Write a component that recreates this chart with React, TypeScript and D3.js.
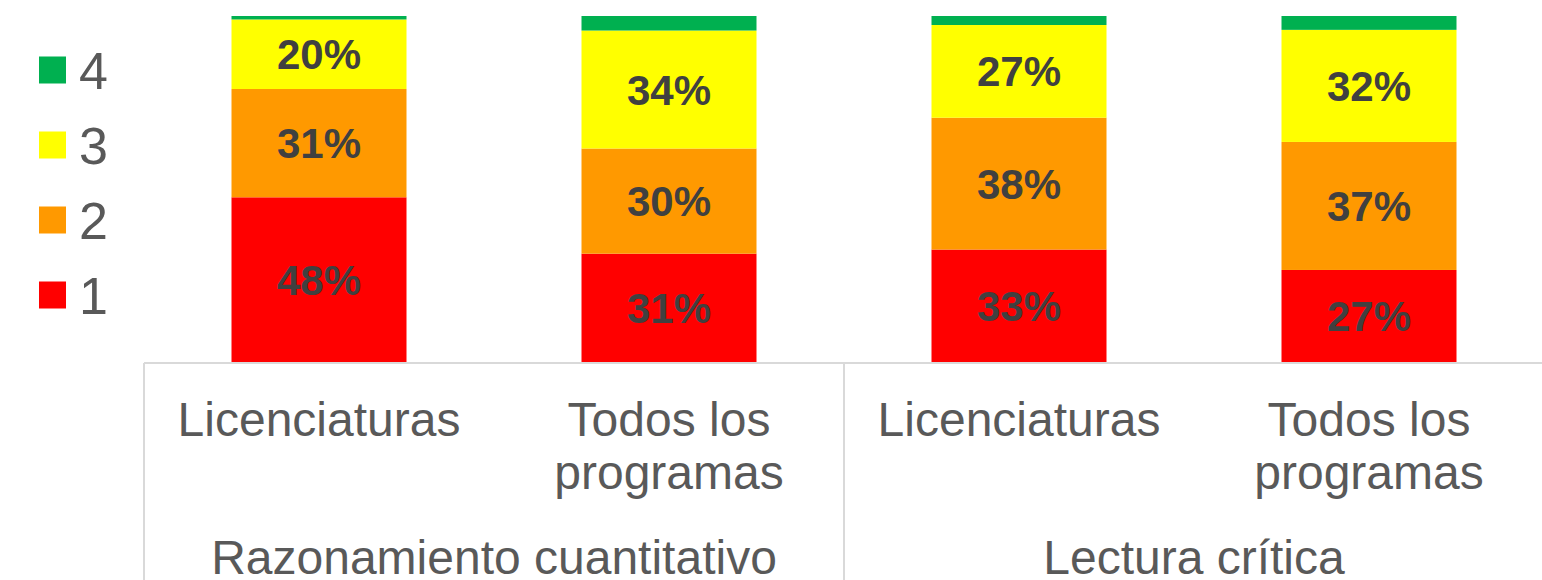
import React from "react";
import * as d3 from "d3";

const categories = ["Licenciaturas", "Todos los programas", "Licenciaturas", "Todos los programas"];
const categoryLines = [["Licenciaturas"], ["Todos los", "programas"], ["Licenciaturas"], ["Todos los", "programas"]];
const groups = ["Razonamiento cuantitativo", "Lectura crítica"];
const levels = ["1", "2", "3", "4"];
const level1 = [0.476, 0.313, 0.325, 0.266];
const level2 = [0.313, 0.304, 0.381, 0.37];
const level3 = [0.201, 0.341, 0.268, 0.324];
const level4 = [0.01, 0.042, 0.026, 0.04];
const colors = ["#FF0000", "#FF9900", "#FFFF00", "#00B050"];

const W = 1542;
const H = 580;

export default function App() {
  const x = d3
    .scaleBand<number>()
    .domain(d3.range(categories.length))
    .range([144, 1544])
    .paddingInner(0.5)
    .paddingOuter(0.25);
  const y = d3.scaleLinear().domain([0, 1]).range([362, 16]);

  const rows = categories.map((c, i) => ({
    i,
    "1": level1[i],
    "2": level2[i],
    "3": level3[i],
    "4": level4[i],
  }));
  const series = d3.stack<any>().keys(levels)(rows);
  const fmt = d3.format(".0%");
  const step = x.step();

  return (
    <svg
      width={W}
      height={H}
      style={{ position: "absolute", left: 0, top: 0, background: "#fff" }}
      fontFamily="'Liberation Sans', Arial, sans-serif"
    >
      {series.map((s, si) => (
        <g key={si} fill={colors[si]}>
          {s.map((d, j) => (
            <rect
              key={j}
              x={x(j)}
              y={y(d[1])}
              width={x.bandwidth()}
              height={y(d[0]) - y(d[1])}
            />
          ))}
        </g>
      ))}
      {series.slice(0, 3).map((s, si) =>
        s.map((d, j) => (
          <text
            key={si + "-" + j}
            x={(x(j) as number) + x.bandwidth() / 2}
            y={(y(d[0]) + y(d[1])) / 2}
            dy="0.36em"
            textAnchor="middle"
            fontSize={42}
            fontWeight="bold"
            fill="#404040"
          >
            {fmt(Math.round((d[1] - d[0]) * 100) / 100)}
          </text>
        ))
      )}
      {/* axis */}
      <g stroke="#D9D9D9" strokeWidth={2}>
        <line x1={144} x2={W} y1={363} y2={363} />
        {groups.map((g, gi) => (
          <line
            key={gi}
            x1={144 + gi * 2 * step}
            x2={144 + gi * 2 * step}
            y1={363}
            y2={H}
          />
        ))}
      </g>
      {categoryLines.map((lines, j) => (
        <text
          key={j}
          x={(x(j) as number) + x.bandwidth() / 2}
          y={436}
          textAnchor="middle"
          fontSize={48}
          fill="#595959"
        >
          {lines.map((l, li) => (
            <tspan key={li} x={(x(j) as number) + x.bandwidth() / 2} dy={li === 0 ? 0 : 53}>
              {l}
            </tspan>
          ))}
        </text>
      ))}
      {groups.map((g, gi) => (
        <text
          key={gi}
          x={144 + gi * 2 * step + step}
          y={574}
          textAnchor="middle"
          fontSize={48}
          fill="#595959"
        >
          {g}
        </text>
      ))}
      {/* legend */}
      {levels
        .slice()
        .reverse()
        .map((lv, k) => {
          const idx = levels.length - 1 - k;
          const cy = 70 + k * 75;
          return (
            <g key={lv}>
              <rect x={39} y={cy - 13.5} width={27} height={27} fill={colors[idx]} />
              <text x={79} y={cy} dy="0.36em" fontSize={52} fill="#595959">
                {lv}
              </text>
            </g>
          );
        })}
    </svg>
  );
}
